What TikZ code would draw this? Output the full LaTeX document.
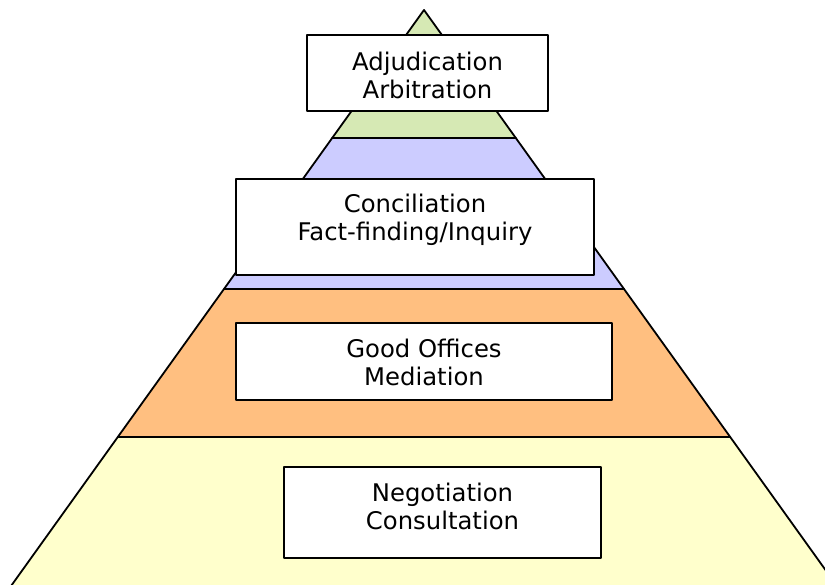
\documentclass[tikz,border=0pt]{standalone}
\usepackage{fontspec}
\setmainfont{DejaVu Sans}

\definecolor{tiergreen}{RGB}{214,233,180}
\definecolor{tierblue}{RGB}{204,204,255}
\definecolor{tierorange}{RGB}{255,191,128}
\definecolor{tieryellow}{RGB}{255,255,204}

\begin{document}
\begin{tikzpicture}[x = 1pt, y = -1pt, line join = round,
	tier/.style = {draw = black, line width = 1.8pt},
	tierbox/.style = {draw = black, fill = white, line width = 2pt, inner sep = 0pt},
	tiertext/.style = {align = center, inner sep = 0pt, font = \fontsize{24.3}{28}\selectfont}]

\clip (0, 0) rectangle (825, 585);
\fill [white] (0, 0) rectangle (825, 585);

% the four layers, bottom one runs off the page
\filldraw [tier, fill = tieryellow] (117.8, 437) -- (730.2, 437) -- (847, 600) -- (1, 600) -- cycle;
\filldraw [tier, fill = tierorange] (224, 289) -- (624, 289) -- (730.2, 437) -- (117.8, 437) -- cycle;
\filldraw [tier, fill = tierblue] (332.2, 138) -- (515.8, 138) -- (624, 289) -- (224, 289) -- cycle;
\filldraw [tier, fill = tiergreen] (424, 10) -- (515.8, 138) -- (332.2, 138) -- cycle;

% labels
\node [tierbox, minimum width = 241pt, minimum height = 76pt] (adjbox) at (427.5, 73) {};
\node [tiertext] (adjtext) at (427.5, 75.5) {Adjudication\\Arbitration};

\node [tierbox, minimum width = 358pt, minimum height = 96pt] (concbox) at (415, 227) {};
\node [tiertext] (conctext) at (415, 219.5) {Conciliation\\Fact-finding/Inquiry};

\node [tierbox, minimum width = 376pt, minimum height = 77pt] (goodbox) at (424, 361.5) {};
\node [tiertext] (goodtext) at (424, 362) {Good Offices\\Mediation};

\node [tierbox, minimum width = 317pt, minimum height = 91pt] (negbox) at (442.5, 512.5) {};
\node [tiertext] (negtext) at (442.5, 506) {Negotiation\\Consultation};

\end{tikzpicture}
\end{document}
